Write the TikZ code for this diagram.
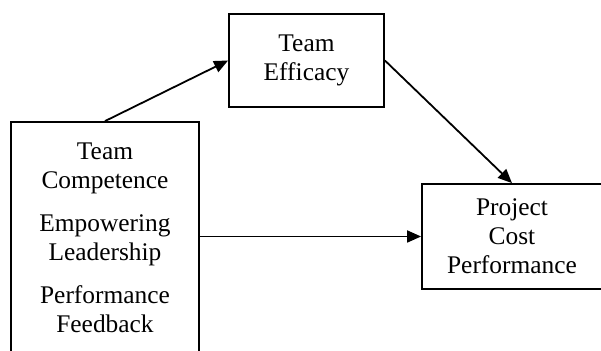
\documentclass[tikz,border=0pt]{standalone}
\usepackage{fontspec}
\setmainfont{Liberation Serif}
\usepackage{tikz}
\usetikzlibrary{arrows.meta}

\begin{document}
\begin{tikzpicture}[x=0.5pt, y=-0.5pt, >={Triangle[length=7pt,width=6pt]},
  box/.style={draw, line width=0.9pt, rectangle, inner sep=0pt, align=center,
    font=\fontsize{12.7}{14.5}\selectfont},
  link/.style={->, line width=0.9pt}]
  \useasboundingbox (0,0) rectangle (601,351);
  % boxes
  \node[box, minimum width=94pt, minimum height=116pt] (lead) at (105,238)
    {Team\\Competence\\[7pt]Empowering\\Leadership\\[7pt]Performance\\Feedback};
  \node[box, minimum width=77.5pt, minimum height=46.5pt] (eff) at (306.5,60.5)
    {Team\\Efficacy};
  \node[box, minimum width=90pt, minimum height=52.5pt] (proj) at (512,236.5)
    {Project\\Cost\\Performance};
  % links
  \draw[link] (lead.north) -- (eff.west);
  \draw[link] (eff.east) -- (proj.north);
  \draw[link] (proj.west -| lead.east) -- (proj.west);
\end{tikzpicture}
\end{document}
